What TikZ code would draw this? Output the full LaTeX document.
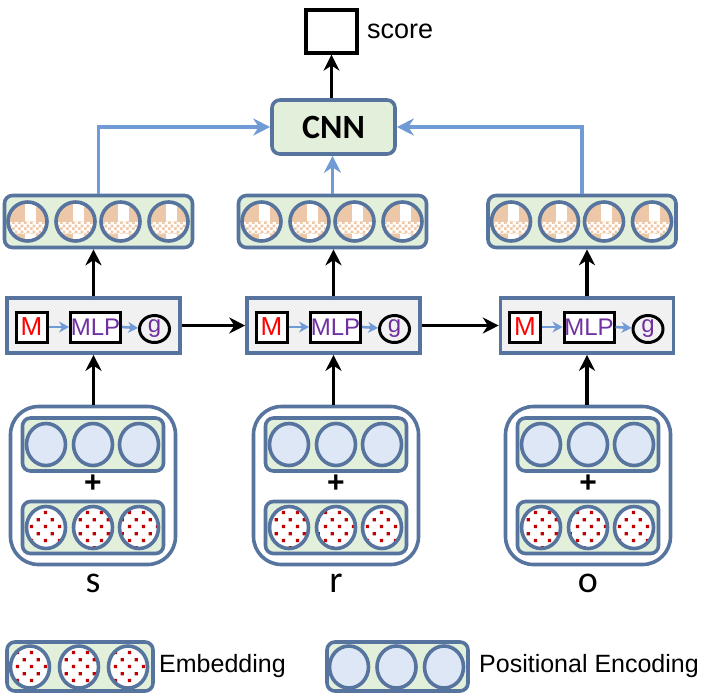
\documentclass[tikz,border=0pt]{standalone}
\usepackage{fontspec}
\setmainfont{Liberation Sans}
\newfontfamily\calfont{Carlito}
\usepackage{xcolor}
\usepackage{tikz}
\usetikzlibrary{shapes.geometric, arrows.meta, positioning, calc, patterns}
\definecolor{myframe}{RGB}{86,116,158}
\definecolor{mygreen}{RGB}{226,239,218}
\definecolor{mylightblue}{RGB}{222,231,245}
\definecolor{mygray}{RGB}{241,241,241}
\definecolor{myblue}{RGB}{112,155,214}
\definecolor{mypeach}{RGB}{236,200,168}
\definecolor{mydotred}{RGB}{192,0,0}
\definecolor{myred}{RGB}{255,0,0}
\definecolor{mypurple}{RGB}{112,48,160}
\pgfdeclarepatternformonly{reddots}{\pgfpointorigin}{\pgfqpoint{7pt}{7pt}}{\pgfqpoint{7pt}{7pt}}{
  \pgfpathrectangle{\pgfqpoint{1pt}{1pt}}{\pgfqpoint{1.7pt}{1.7pt}}
  \pgfpathrectangle{\pgfqpoint{4.5pt}{4.5pt}}{\pgfqpoint{1.7pt}{1.7pt}}
  \pgfusepath{fill}}
\pgfdeclarepatternformonly{finecheck}{\pgfpointorigin}{\pgfqpoint{3pt}{3pt}}{\pgfqpoint{3pt}{3pt}}{
  \pgfpathrectangle{\pgfpointorigin}{\pgfqpoint{1.5pt}{1.5pt}}
  \pgfpathrectangle{\pgfqpoint{1.5pt}{1.5pt}}{\pgfqpoint{1.5pt}{1.5pt}}
  \pgfusepath{fill}}
\tikzset{
  rowbox/.style={rectangle, draw=myframe, fill=mygreen, rounded corners=4pt,
    line width=1.8pt, inner sep=0pt},
  procbox/.style={rectangle, draw=myframe, fill=mygray, line width=1.8pt,
    minimum width=86.5pt, minimum height=27.5pt},
  groupbox/.style={rectangle, draw=myframe, fill=white, rounded corners=14pt,
    line width=1.8pt, minimum width=82.5pt, minimum height=79pt},
  cnnbox/.style={rectangle, draw=myframe, fill=mygreen, rounded corners=4pt,
    line width=1.8pt, minimum width=61.5pt, minimum height=27pt,
    font=\calfont\bfseries\fontsize{17}{20}\selectfont},
  scorebox/.style={rectangle, draw=black, fill=white, line width=1.7pt,
    minimum width=25.5pt, minimum height=21.5pt},
  pecirc/.style={ellipse, draw=myframe, fill=mylightblue, line width=1.8pt,
    minimum width=19.5pt, minimum height=21pt, inner sep=0pt},
  embcirc/.style={ellipse, draw=myframe, preaction={fill=white}, pattern=reddots,
    pattern color=mydotred, line width=1.8pt,
    minimum width=19.5pt, minimum height=21pt, inner sep=0pt},
  outcirc/.style={circle, draw=myframe, fill=mypeach, line width=1.8pt,
    minimum size=19.5pt, inner sep=0pt,
    path picture={
      \fill[white] ([shift={(-1.5pt,-12pt)}]path picture bounding box.center)
        rectangle ([shift={(4pt,12pt)}]path picture bounding box.center);
      \fill[white] ([shift={(-12pt,-6pt)}]path picture bounding box.center)
        rectangle ([shift={(12pt,0pt)}]path picture bounding box.center);
      \fill[pattern=finecheck, pattern color=mypeach]
        ([shift={(-12pt,-6pt)}]path picture bounding box.center)
        rectangle ([shift={(12pt,0pt)}]path picture bounding box.center);
    }},
  mbox/.style={rectangle, draw=black, fill=white, line width=1.5pt,
    minimum width=15.5pt, minimum height=15pt, inner sep=0pt, text=myred,
    font=\fontsize{13}{15}\selectfont},
  mlpbox/.style={rectangle, draw=black, fill=white, line width=1.5pt,
    minimum width=25pt, minimum height=15pt, inner sep=0pt, text=mypurple,
    font=\fontsize{12}{14}\selectfont},
  gcirc/.style={ellipse, draw=black, line width=1.5pt, minimum width=15pt,
    minimum height=13.5pt, inner sep=0pt, text=mypurple,
    font=\fontsize{12}{14}\selectfont},
  plus/.style={inner sep=0pt, font=\bfseries\fontsize{15}{17}\selectfont},
  varlabel/.style={inner sep=0pt, font=\calfont\fontsize{19}{22}\selectfont},
  legtext/.style={inner sep=0pt, font=\fontsize{12.5}{15}\selectfont},
  arrow/.style={-{Stealth[length=8pt, width=8pt]}, line width=1.7pt, color=black},
  bluearrow/.style={-{Stealth[length=8.5pt, width=8.5pt]}, line width=1.6pt, color=myblue},
  smallarrow/.style={-{Stealth[length=5pt, width=5.5pt]}, line width=1.3pt, color=myblue}
}
\begin{document}
\begin{tikzpicture}[x=0.5pt, y=-0.5pt]
  \useasboundingbox (0,0) rectangle (715,697);

  % Score and CNN
  \node[scorebox] (score) at (331.5,31.5) {};
  \node[legtext, font=\fontsize{13.5}{16}\selectfont, right=4pt of score] (score-lab) {score};
  \node[cnnbox] (cnn) at (333.5,127) {CNN};

  % Output rows
  \foreach \n/\cx in {s/98.5, r/332.5, o/582} {
    \node[rowbox, minimum width=94pt, minimum height=26pt] (out-\n) at (\cx,221.5) {};
    \foreach \dx [count=\i] in {-71,-23,22,70}
      \node[outcirc] (out-\n-\i) at ({\cx+\dx},221.5) {};
  }

  % M -> MLP -> g blocks
  \foreach \n/\cx in {s/93.5, r/333.5, o/587} {
    \node[procbox] (proc-\n) at (\cx,325.5) {};
    \node[mbox] (m-\n) at ({\cx-62},327) {M};
    \node[mlpbox] (mlp-\n) at ({\cx+2},327) {MLP};
    \node[gcirc] (g-\n) at ({\cx+61},329) {g};
    \draw[smallarrow] (m-\n) -- (mlp-\n);
    \draw[smallarrow] (mlp-\n.east) -- (g-\n);
  }

  % Inputs: positional encoding + embedding
  \foreach \n/\cx in {s/93, r/336, o/588} {
    \node[groupbox] (in-\n) at (\cx,485.5) {};
    \node[rowbox, minimum width=70.5pt, minimum height=26.5pt] (pe-\n) at (\cx,444.5) {};
    \node[rowbox, minimum width=70.5pt, minimum height=26pt] (emb-\n) at (\cx,527.5) {};
    \foreach \dx [count=\i] in {-47,0,46} {
      \node[pecirc] (pe-\n-\i) at ({\cx+\dx},444.5) {};
      \node[embcirc] (emb-\n-\i) at ({\cx+\dx},527.5) {};
    }
    \node[plus] (plus-\n) at (\cx,483.5) {+};
    \node[varlabel] (lab-\n) at (\cx,583) {\n};
  }

  % Black arrows
  \draw[arrow] (proc-s) -- (proc-r);
  \draw[arrow] (proc-r) -- (proc-o);
  \foreach \n in {s,r,o} {
    \draw[arrow] (proc-\n.south |- in-\n.north) -- (proc-\n.south);
    \draw[arrow] (proc-\n.north) -- (proc-\n.north |- out-\n.south);
  }
  \draw[arrow] (score.south |- cnn.north) -- (score.south);

  % Blue arrows into CNN
  \draw[bluearrow] (out-s.north) |- (cnn.west);
  \draw[bluearrow] (out-r.north) -- (out-r.north |- cnn.south);
  \draw[bluearrow] (out-o.north) |- (cnn.east);

  % Legend
  \node[rowbox, minimum width=73pt, minimum height=24.5pt] (leg-emb) at (80,666.5) {};
  \foreach \x [count=\i] in {30,79,128}
    \node[embcirc] (leg-emb-\i) at (\x,667) {};
  \node[legtext, right=2pt of leg-emb] (leg-emb-lab) {Embedding};
  \node[rowbox, minimum width=70.5pt, minimum height=24.5pt] (leg-pe) at (397.5,666.5) {};
  \foreach \x [count=\i] in {349,396.5,444}
    \node[pecirc] (leg-pe-\i) at (\x,667) {};
  \node[legtext, right=4.5pt of leg-pe] (leg-pe-lab) {Positional Encoding};
\end{tikzpicture}
\end{document}
